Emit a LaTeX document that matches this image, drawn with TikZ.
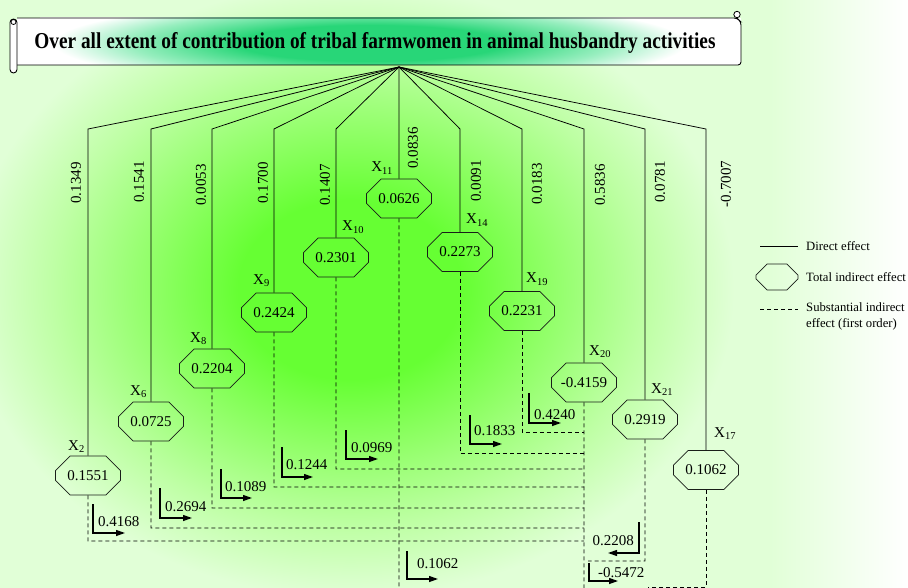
\documentclass[tikz,border=0pt]{standalone}
\usepackage{fontspec}
\setmainfont{Liberation Serif}
\usepackage{graphicx}
\usetikzlibrary{shapes.misc,arrows.meta}

\definecolor{glowA}{RGB}{102,255,51}
\definecolor{glowC}{RGB}{145,255,104}
\definecolor{glowD}{RGB}{190,255,164}
\definecolor{paleG}{RGB}{225,255,215}
\definecolor{titleG}{RGB}{40,214,120}
\definecolor{titleM}{RGB}{150,238,190}
\definecolor{inkG}{RGB}{25,30,25}

\pgfdeclareradialshading{bgglow}{\pgfpoint{0bp}{0bp}}{color(0bp)=(glowA); color(7bp)=(glowA); color(12.5bp)=(glowC); color(18.5bp)=(glowD); color(24bp)=(paleG); color(50bp)=(paleG)}
\pgfdeclareradialshading{titleglow}{\pgfpoint{0bp}{0bp}}{color(0bp)=(titleG); color(10bp)=(titleG); color(18bp)=(titleM); color(24bp)=(white); color(50bp)=(white)}

\tikzset{
  oct/.style={chamfered rectangle, chamfered rectangle sep=9.5pt, draw=inkG, line width=0.8pt,
    minimum width=65pt, minimum height=39pt, inner sep=0pt, font=\fontsize{15}{18}\selectfont},
  direct/.style={line width=0.75pt},
  subst/.style={line width=0.85pt, dash pattern=on 4pt off 3pt},
  effarrow/.style={line width=1.2pt, -{Triangle[length=9pt,width=6pt]}},
  val/.style={font=\fontsize{15}{18}\selectfont, inner sep=0pt},
  xlab/.style={font=\fontsize{15}{18}\selectfont, inner sep=0pt},
  legtext/.style={font=\fontsize{12.7}{16}\selectfont, anchor=west, inner sep=0pt, align=left}
}

\begin{document}
\begin{tikzpicture}[x=1pt,y=-1pt]
\useasboundingbox (0,0) rectangle (908,588);

% fond
\fill[paleG] (0,0) rectangle (908,588);
\shade[left color=paleG, right color=white] (770,0) rectangle (908,588);
\shade[shading=bgglow] (-50,-30) rectangle (750,610);

% rouleau du titre
\fill[white] (17,18) rectangle (741,65);
\begin{scope}
\clip (17,18) rectangle (741,65);
\shade[shading=titleglow] (40,-2) rectangle (700,88);
\end{scope}
\draw[line width=0.9pt, rounded corners=3pt] (17,18) -- (737,18) -- (741,22) -- (741,65) -- (17,65);
\draw[line width=0.9pt, fill=white, rounded corners=3.5pt] (10,19) rectangle (17,73);
\draw[line width=0.8pt] (13.5,22) circle (2.5);
\draw[line width=0.8pt, fill=white] (737,14.5) circle (3.2);
\node (title) at (375,43) {\resizebox{681pt}{16pt}{\bfseries Over all extent of contribution of tribal farmwomen in animal husbandry activities}};

\coordinate (root) at (399,67);

% effets indirects totaux
\node[oct] (x2) at (88,475.5) {0.1551};
\node[oct] (x6) at (151,421.5) {0.0725};
\node[oct] (x8) at (212,368.5) {0.2204};
\node[oct] (x9) at (274,312.5) {0.2424};
\node[oct] (x10) at (336,257.5) {0.2301};
\node[oct] (x11) at (399,198.5) {0.0626};
\node[oct] (x14) at (460,252) {0.2273};
\node[oct] (x19) at (522,311) {0.2231};
\node[oct] (x20) at (584,382.5) {-0.4159};
\node[oct] (x21) at (645,419.5) {0.2919};
\node[oct] (x17) at (706,470) {0.1062};

% noms des variables
\node[xlab, anchor=base east] (l2) at (85,450) {X\textsubscript{2}};
\node[xlab, anchor=base east] (l6) at (147,395) {X\textsubscript{6}};
\node[xlab, anchor=base east] (l8) at (207,342) {X\textsubscript{8}};
\node[xlab, anchor=base east] (l9) at (270,284) {X\textsubscript{9}};
\node[xlab, anchor=base east] (l11) at (393,172) {X\textsubscript{11}};
\node[xlab, anchor=base west] (l10) at (342,231) {X\textsubscript{10}};
\node[xlab, anchor=base west] (l14) at (466,224) {X\textsubscript{14}};
\node[xlab, anchor=base west] (l19) at (526,283) {X\textsubscript{19}};
\node[xlab, anchor=base west] (l20) at (589,355) {X\textsubscript{20}};
\node[xlab, anchor=base west] (l21) at (651,393) {X\textsubscript{21}};
\node[xlab, anchor=base west] (l17) at (714,437) {X\textsubscript{17}};

% effets directs
\draw[direct] (root) -- (x2 |- 0,129) -- (x2);
\draw[direct] (root) -- (x6 |- 0,129) -- (x6);
\draw[direct] (root) -- (x8 |- 0,129) -- (x8);
\draw[direct] (root) -- (x9 |- 0,129) -- (x9);
\draw[direct] (root) -- (x10 |- 0,129) -- (x10);
\draw[direct] (root) -- (x11);
\draw[direct] (root) -- (x14 |- 0,129) -- (x14);
\draw[direct] (root) -- (x19 |- 0,129) -- (x19);
\draw[direct] (root) -- (x20 |- 0,129) -- (x20);
\draw[direct] (root) -- (x21 |- 0,129) -- (x21);
\draw[direct] (root) -- (x17 |- 0,129) -- (x17);

\node[val, rotate=90] (d2) at (76,183) {0.1349};
\node[val, rotate=90] (d6) at (139,182) {0.1541};
\node[val, rotate=90] (d8) at (201,185) {0.0053};
\node[val, rotate=90] (d9) at (263,183) {0.1700};
\node[val, rotate=90] (d10) at (325,185) {0.1407};
\node[val, rotate=90] (d11) at (413,148) {0.0836};
\node[val, rotate=90] (d14) at (476,181) {0.0091};
\node[val, rotate=90] (d19) at (537,184) {0.0183};
\node[val, rotate=90] (d20) at (600,185) {0.5836};
\node[val, rotate=90] (d21) at (660,182) {0.0781};
\node[val, rotate=90] (d17) at (726,184) {-0.7007};

% effets indirects substantiels
\draw[subst] (x20) -- (x20 |- 0,588);
\draw[subst] (x11) -- (x11 |- 0,588);
\draw[subst] (x2) -- (x2 |- 0,541) -- (x20 |- 0,541);
\draw[subst] (x6) -- (x6 |- 0,528) -- (x20 |- 0,528);
\draw[subst] (x8) -- (x8 |- 0,508) -- (x20 |- 0,508);
\draw[subst] (x9) -- (x9 |- 0,487) -- (x20 |- 0,487);
\draw[subst] (x10) -- (x10 |- 0,469) -- (x20 |- 0,469);
\draw[subst] (x14) -- (x14 |- 0,453) -- (x20 |- 0,453);
\draw[subst] (x19) -- (x19 |- 0,432) -- (x20 |- 0,432);
\draw[subst] (x21) -- (x21 |- 0,561) -- (588,561);
\draw[subst] (x17) -- (x17 |- 0,587) -- (648,587);

\draw[effarrow] (93,504) |- (125,533);
\node[val, anchor=base west] (e2) at (98,526) {0.4168};
\draw[effarrow] (160,488) |- (192,518);
\node[val, anchor=base west] (e6) at (165,511) {0.2694};
\draw[effarrow] (221,469) |- (252,498);
\node[val, anchor=base west] (e8) at (225,491) {0.1089};
\draw[effarrow] (282,447) |- (313,477);
\node[val, anchor=base west] (e9) at (286,469) {0.1244};
\draw[effarrow] (346,430) |- (378,459);
\node[val, anchor=base west] (e10) at (351,452) {0.0969};
\draw[effarrow] (407,551) |- (438,579);
\node[val, anchor=base west] (e11) at (417,568) {0.1062};
\draw[effarrow] (470,415) |- (502,444);
\node[val, anchor=base west] (e14) at (474,435) {0.1833};
\draw[effarrow] (529,393) |- (561,423);
\node[val, anchor=base west] (e19) at (534,419) {0.4240};
\draw[effarrow] (639,522) |- (608,553);
\node[val, anchor=base east] (e21) at (634,545) {0.2208};
\draw[effarrow] (589,563) |- (618,581);
\node[val, anchor=base west] (e20) at (598,577) {-0.5472};

% legende
\draw[direct] (760,246) -- (798,246);
\node[legtext] (lg1) at (806,246) {Direct effect};
\node[oct, minimum width=42pt, minimum height=26pt, chamfered rectangle sep=6pt] (lg2o) at (777,277) {\phantom{0.0}};
\node[legtext] (lg2) at (806,277) {Total indirect effect};
\draw[subst] (760,309) -- (798,309);
\node[legtext] (lg3) at (806,316) {Substantial indirect\\effect (first order)};

\end{tikzpicture}
\end{document}
